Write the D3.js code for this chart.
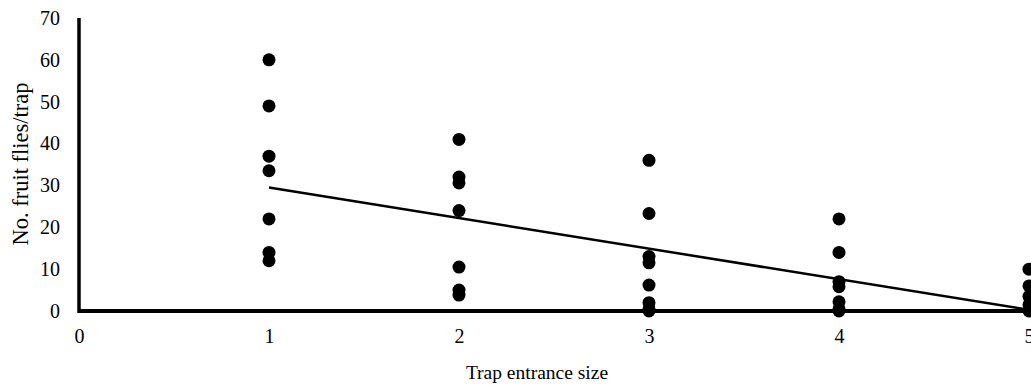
<!DOCTYPE html>
<html>
<head>
<meta charset="utf-8">
<script src="https://cdn.jsdelivr.net/npm/d3@7"></script>
<style>
  html, body { margin: 0; padding: 0; background: #fff; }
  svg { display: block; font-family: "Liberation Serif", "Times New Roman", serif; }
</style>
</head>
<body>
<svg id="chart"></svg>
<script>
// entrance size per group, and the counts
const entranceSizes = [1, 2, 3, 4, 5];
const fliesSize1 = [60, 49, 37, 33.5, 22, 14, 12];
const fliesSize2 = [41, 32, 30.6, 24, 10.5, 5, 3.8];
const fliesSize3 = [36, 23.3, 13, 11.5, 6.2, 2, 0.5, 0];
const fliesSize4 = [22, 14, 7, 5.8, 2.2, 0.5, 0];
const fliesSize5 = [10, 6, 3.5, 1.5, 0];
const groups = [fliesSize1, fliesSize2, fliesSize3, fliesSize4, fliesSize5];

// linear trend line shown in the chart
const trendX = [1, 5];
const trendY = [29.5, 0.3];

const xTicks = [0, 1, 2, 3, 4, 5];
const yTicks = [0, 10, 20, 30, 40, 50, 60, 70];

const width = 1031, height = 385;
const margin = { top: 18, right: 2, bottom: 74, left: 79 };

const svg = d3.select('#chart')
  .attr('width', width)
  .attr('height', height);

const x = d3.scaleLinear()
  .domain([0, 5])
  .range([margin.left, 1029]);

const y = d3.scaleLinear()
  .domain([0, 70])
  .range([height - margin.bottom, margin.top]);

const points = [];
entranceSizes.forEach((s, i) => groups[i].forEach(v => points.push({ size: s, value: v })));

// axes (no tick marks, thick black lines)
const xAxis = svg.append('g')
  .attr('transform', `translate(0,${y(0)})`)
  .call(d3.axisBottom(x).tickValues(xTicks).tickSize(0).tickPadding(18).tickFormat(d3.format('d')));
xAxis.select('.domain').remove();
xAxis.selectAll('text').attr('font-size', 20).attr('fill', '#000').attr('font-family', 'Liberation Serif');

const yAxis = svg.append('g')
  .attr('transform', `translate(${x(0)},0)`)
  .call(d3.axisLeft(y).tickValues(yTicks).tickSize(0).tickPadding(19).tickFormat(d3.format('d')));
yAxis.select('.domain').remove();
yAxis.selectAll('text').attr('font-size', 20).attr('fill', '#000').attr('font-family', 'Liberation Serif');

// trend line
svg.append('line')
  .attr('x1', x(trendX[0])).attr('y1', y(trendY[0]))
  .attr('x2', x(trendX[1])).attr('y2', y(trendY[1]))
  .attr('stroke', '#000')
  .attr('stroke-width', 2.5);

// axis lines drawn over
svg.append('line')
  .attr('x1', x(0)).attr('x2', width)
  .attr('y1', y(0)).attr('y2', y(0))
  .attr('stroke', '#000').attr('stroke-width', 4);
svg.append('line')
  .attr('x1', x(0)).attr('x2', x(0))
  .attr('y1', y(70)).attr('y2', y(0) + 2)
  .attr('stroke', '#000').attr('stroke-width', 3.5);

// scatter points
svg.append('g')
  .selectAll('circle')
  .data(points)
  .join('circle')
  .attr('cx', d => x(d.size))
  .attr('cy', d => y(d.value))
  .attr('r', 6.5)
  .attr('fill', '#000');

// axis titles
svg.append('text')
  .attr('x', 537)
  .attr('y', 379)
  .attr('text-anchor', 'middle')
  .attr('font-size', 19.5)
  .text('Trap entrance size');

svg.append('text')
  .attr('transform', `translate(28,164) rotate(-90)`)
  .attr('text-anchor', 'middle')
  .attr('font-size', 22.5)
  .text('No. fruit flies/trap');
</script>
</body>
</html>
